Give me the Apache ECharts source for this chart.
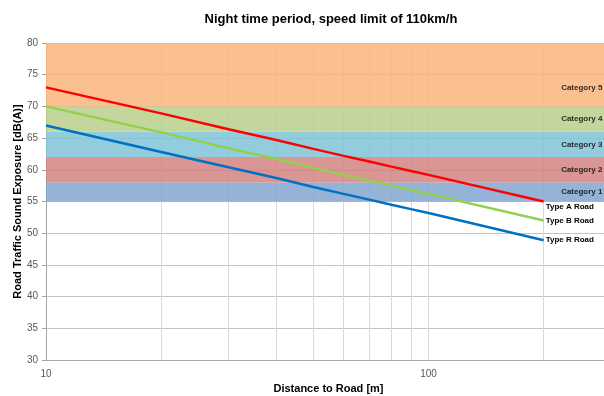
<!DOCTYPE html>
<html>
<head>
<meta charset="utf-8">
<script src="https://cdn.jsdelivr.net/npm/echarts@6/dist/echarts.min.js"></script>
<style>html,body{margin:0;padding:0;background:#fff;}#c{width:604px;height:396px;}</style>
</head>
<body>
<div id="c"></div>
<script>
// ---- data ----
const distances = [10, 20, 30, 40, 50, 60, 70, 80, 90, 100, 200];
const typeA = [73.0, 68.9, 66.4, 64.7, 63.3, 62.2, 61.3, 60.5, 59.8, 59.2, 55.0];
const typeB = [70.0, 65.9, 63.4, 61.7, 60.3, 59.2, 58.3, 57.5, 56.8, 56.2, 52.0];
const typeR = [67.0, 62.8, 60.4, 58.7, 57.3, 56.2, 55.3, 54.5, 53.8, 53.2, 48.9];
const roadNames = ['Type A Road', 'Type B Road', 'Type R Road'];
const bandNames = ['Category 1', 'Category 2', 'Category 3', 'Category 4', 'Category 5'];
const bandLower = [55, 58, 62, 66, 70];
const bandUpper = [58, 62, 66, 70, 80];
const bandLabelValue = [56.5, 60, 64, 68, 73];
const bandLabelDistance = 285;
const minorGridDistances = [20, 30, 40, 50, 60, 70, 80, 90, 200];
const xMin = 10, xMax = 300;
const yMin = 30, yMax = 80, yStep = 5;

const bandColors = ['rgba(130,166,208,0.85)', 'rgba(210,132,129,0.85)', 'rgba(128,196,215,0.85)', 'rgba(184,207,137,0.85)', 'rgba(249,181,124,0.85)'];
const lineColors = ['#FF0000', '#92D050', '#0070C0'];
const FONT = 'Liberation Sans, Arial, sans-serif';

const chart = echarts.init(document.getElementById('c'));
const roadSeries = [typeA, typeB, typeR].map((vals, i) => ({
  name: roadNames[i],
  type: 'line',
  z: 3,
  data: distances.map((d, j) => [d, vals[j]]),
  symbol: 'none',
  lineStyle: { width: 2.5, color: lineColors[i] },
  itemStyle: { color: lineColors[i] },
  endLabel: {
    show: true, formatter: '{a}', distance: 2,
    offset: i === 0 ? [0, 5] : [0, 0],
    fontFamily: FONT, fontSize: 8, fontWeight: 'bold', color: '#000'
  },
  animation: false
}));

chart.setOption({
  animation: false,
  title: {
    text: 'Night time period, speed limit of 110km/h',
    left: 326, top: 8, textAlign: 'center',
    textStyle: { fontFamily: FONT, fontSize: 13, fontWeight: 'bold', color: '#000' }
  },
  grid: { left: 46, top: 43, bottom: 36, right: -7, containLabel: false, outerBoundsMode: 'none' },
  xAxis: {
    type: 'log', logBase: 10, min: xMin, max: xMax,
    name: 'Distance to Road [m]', nameLocation: 'middle', nameGap: 21,
    nameTextStyle: { fontFamily: FONT, fontSize: 11, fontWeight: 'bold', color: '#000' },
    axisLine: { lineStyle: { color: '#A6A6A6', width: 1 } },
    axisTick: { show: false },
    axisLabel: { fontFamily: FONT, fontSize: 10, color: '#595959', margin: 9, showMaxLabel: false },
    splitLine: { show: true, lineStyle: { color: '#D9D9D9', width: 1 } }
  },
  yAxis: {
    type: 'value', min: yMin, max: yMax, interval: yStep,
    name: 'Road Traffic Sound Exposure [dB(A)]', nameLocation: 'middle', nameGap: 23,
    nameMoveOverlap: false,
    nameTextStyle: { fontFamily: FONT, fontSize: 11, fontWeight: 'bold', color: '#000' },
    axisLine: { show: true, lineStyle: { color: '#A6A6A6', width: 1 } },
    axisTick: { show: true, length: 4, lineStyle: { color: '#A6A6A6' } },
    axisLabel: { fontFamily: FONT, fontSize: 10, color: '#595959', margin: 8 },
    splitLine: { show: true, lineStyle: { color: '#C4C4C4', width: 1 } }
  },
  series: [
    {
      name: 'grid', type: 'line', data: [], silent: true, z: 0,
      markLine: {
        z: 0.5, silent: true, symbol: 'none', animation: false,
        label: { show: false },
        lineStyle: { color: '#D9D9D9', width: 1, type: 'solid' },
        data: minorGridDistances.map(d => ({ xAxis: d }))
      }
    },
    {
      name: 'bands', type: 'line', data: [], silent: true, z: 1,
      markArea: {
        z: 1, silent: true, animation: false,
        data: bandNames.map((n, i) => [
          { yAxis: bandLower[i], itemStyle: { color: bandColors[i] } },
          { yAxis: bandUpper[i] }
        ])
      }
    },
    {
      name: 'bandLabels', type: 'scatter', z: 4, symbolSize: 0, silent: true,
      data: bandNames.map((n, i) => ({ name: n, value: [bandLabelDistance, bandLabelValue[i]] })),
      label: {
        show: true, position: 'left', distance: 0, formatter: '{b}',
        fontFamily: FONT, fontSize: 8, fontWeight: 'bold', color: '#000'
      }
    },
    ...roadSeries
  ]
});
</script>
</body>
</html>
